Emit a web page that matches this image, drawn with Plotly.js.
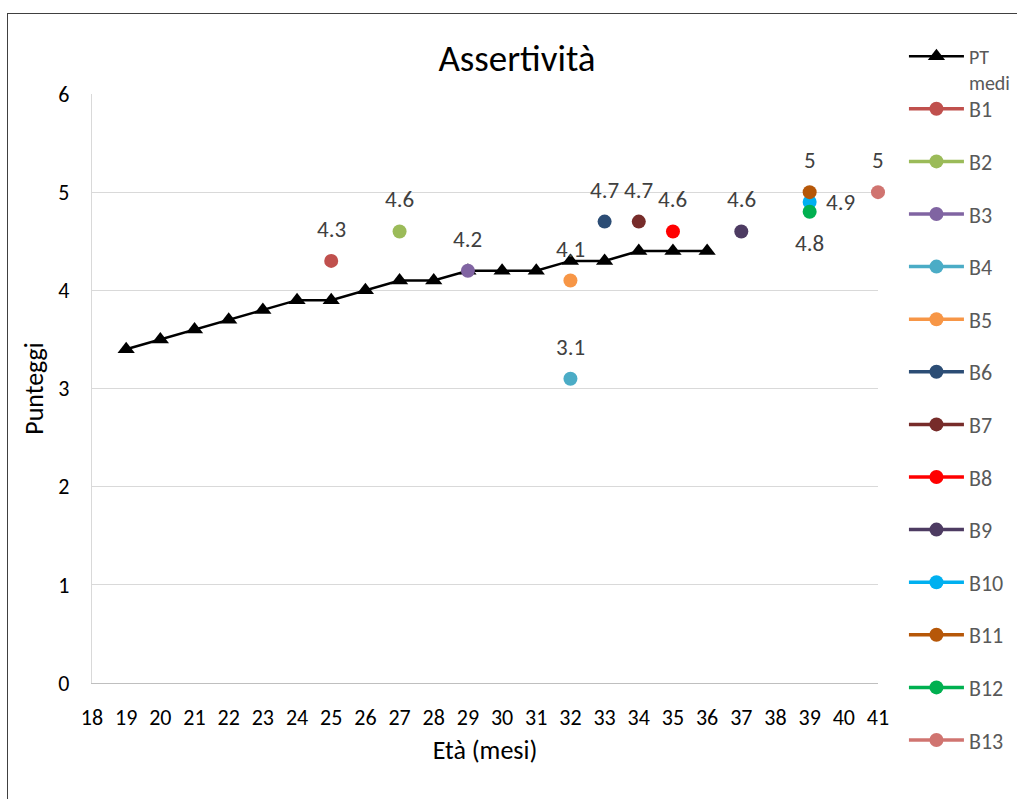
<!DOCTYPE html>
<html>
<head>
<meta charset="utf-8">
<script src="https://cdn.plot.ly/plotly-3.0.1.min.js"></script>
<style>
html,body{margin:0;padding:0;background:#fff;overflow:hidden;}
#frame{position:absolute;left:7px;top:13px;width:1100px;height:900px;border:1.5px solid #404040;pointer-events:none;z-index:5;}
#chart{position:absolute;left:0;top:0;width:1017px;height:799px;}
</style>
</head>
<body>
<div id="chart"></div>
<div id="frame"></div>
<script>
// Average curve
const ptName = "PT<br>medi";
const ptAge = [19,20,21,22,23,24,25,26,27,28,29,30,31,32,33,34,35,36];
const ptScore = [3.4,3.5,3.6,3.7,3.8,3.9,3.9,4.0,4.1,4.1,4.2,4.2,4.2,4.3,4.3,4.4,4.4,4.4];

// Individual children
const childNames = ["B1","B2","B3","B4","B5","B6","B7","B8","B9","B10","B11","B12","B13"];
const childAge   = [25,27,29,32,32,33,34,35,37,39,39,39,41];
const childScore = [4.3,4.6,4.2,3.1,4.1,4.7,4.7,4.6,4.6,4.9,5.0,4.8,5.0];
const childLabels = ["4.3","4.6","4.2","3.1","4.1","4.7","4.7","4.6","4.6","4.9","5","4.8","5"];
const labelPos = ["top","top","top","top","top","top","top","top","top","right","top","bottom","top"];
const childColors = ["#C0504D","#9BBB59","#8064A2","#4BACC6","#F79646","#2C4D75","#772C2A","#FF0000","#4D3B62","#00B0F0","#B65708","#00B050","#D07470"];

const xTicks = [18,19,20,21,22,23,24,25,26,27,28,29,30,31,32,33,34,35,36,37,38,39,40,41];

const FONT = "Carlito, Lato, 'Liberation Sans', sans-serif";

const traces = [{
  x: ptAge, y: ptScore, name: ptName, type: "scatter", mode: "lines+markers",
  line: {color: "#000000", width: 2.5},
  marker: {symbol: "triangle-up", size: 15, color: "#000000"},
  legend: "legend2", cliponaxis: false
}];
childNames.forEach((n, i) => {
  traces.push({
    x: [childAge[i]], y: [childScore[i]], name: n, type: "scatter", mode: "lines+markers",
    line: {color: childColors[i], width: 3.5},
    marker: {symbol: "circle", size: 14, color: childColors[i]},
    legendgroup: "g" + (i + 1), legend: "legend", cliponaxis: false
  });
});

const annotations = childNames.map((n, i) => {
  const p = labelPos[i];
  return {
    x: childAge[i], y: childScore[i], xref: "x", yref: "y",
    text: childLabels[i], showarrow: false,
    font: {family: FONT, size: 23, color: "#404040"},
    xshift: p === "right" ? 31 : 0,
    yshift: p === "top" ? 32 : (p === "bottom" ? -31 : 0)
  };
});

const legendCommon = {
  x: 1.033, xanchor: "left", yanchor: "top", yref: "paper",
  font: {family: FONT, size: 22, color: "#595959"},
  valign: "top", itemwidth: 55, bgcolor: "rgba(0,0,0,0)", maxheight: 799
};

const layout = {
  width: 1017, height: 799,
  margin: {l: 92, r: 139, t: 94, b: 116, autoexpand: false},
  paper_bgcolor: "#ffffff", plot_bgcolor: "#ffffff",
  font: {family: FONT, size: 18, color: "#000000"},
  title: {text: "Assertività", font: {family: FONT, size: 37, color: "#000000"},
          x: 0.5407, xref: "paper", xanchor: "center", y: 0.927, yref: "container", yanchor: "middle"},
  xaxis: {
    range: [18, 41], tickvals: xTicks, ticktext: xTicks.map(String),
    showgrid: false, zeroline: false, showline: true, linecolor: "#BFBFBF", linewidth: 1.3,
    ticks: "", ticklabelstandoff: 14, tickfont: {family: FONT, size: 22, color: "#000000"},
    title: {text: "Età (mesi)", font: {family: FONT, size: 26, color: "#000000"}, standoff: 11}
  },
  yaxis: {
    range: [0, 6], dtick: 1, tick0: 0,
    showgrid: true, gridcolor: "#D9D9D9", gridwidth: 1.3, zeroline: false,
    showline: true, linecolor: "#D9D9D9", linewidth: 1.3,
    ticks: "", ticklabelstandoff: 17, tickfont: {family: FONT, size: 22, color: "#000000"},
    title: {text: "Punteggi", font: {family: FONT, size: 26, color: "#000000"}, standoff: 7}
  },
  showlegend: true,
  legend: Object.assign({}, legendCommon, {y: 1.0102, tracegroupgap: 21, traceorder: "grouped"}),
  legend2: Object.assign({}, legendCommon, {y: 1.097, font: {family: FONT, size: 20, color: "#595959"}}),
  annotations: annotations
};

Plotly.newPlot("chart", traces, layout, {displayModeBar: false, staticPlot: true});
</script>
</body>
</html>
